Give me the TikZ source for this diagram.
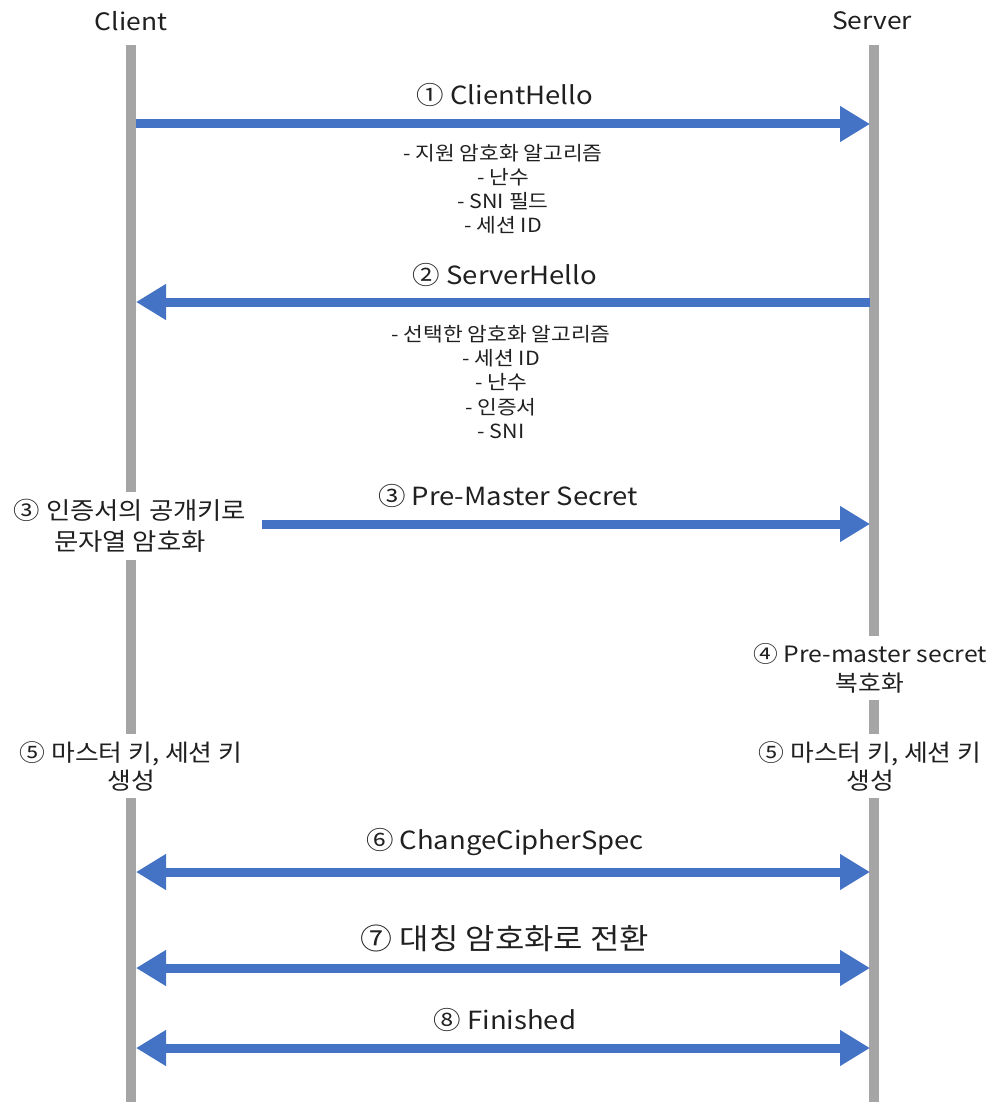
\documentclass[tikz,border=0pt]{standalone}
\usepackage{fontspec}
\setmainfont[FakeStretch=1.1]{Noto Sans CJK KR}
\usetikzlibrary{arrows.meta}
\definecolor{lifegray}{HTML}{A5A5A5}
\definecolor{msgblue}{HTML}{4472C4}
\definecolor{txt}{HTML}{202020}
\tikzset{
  lifeline/.style={draw=lifegray, line width=10pt},
  msg/.style={draw=msgblue, line width=9pt, -{Triangle[length=30pt,width=34pt]}},
  msgboth/.style={draw=msgblue, line width=9pt, {Triangle[length=30pt,width=34pt]}-{Triangle[length=30pt,width=34pt]}},
  actor/.style={font=\fontsize{24}{28}\selectfont, text=txt},
  title/.style={font=\fontsize{25}{29}\selectfont, text=txt},
  bigtitle/.style={font=\fontsize{29}{33}\selectfont, text=txt},
  detail/.style={font=\fontsize{19.5}{24.2}\selectfont, align=center, text=txt},
  sidenote/.style={font=\fontsize{24}{31}\selectfont, align=center, fill=white, inner xsep=1pt, inner ysep=7pt, text=txt},
}
\begin{document}
\begin{tikzpicture}[x=1pt,y=-1pt]
\useasboundingbox (0,0) rectangle (994,1102);
% actors
\node[actor] (client) at (131,21) {Client};
\node[actor] (server) at (872,21) {Server};
\coordinate (cTop) at (131,45);
\coordinate (cBot) at (131,1102);
\coordinate (sTop) at (874,45);
\coordinate (sBot) at (874,1102);
\draw[lifeline] (cTop) -- (cBot);
\draw[lifeline] (sTop) -- (sBot);
% message endpoints
\coordinate (c1) at (136,124); \coordinate (s1) at (870,124);
\coordinate (c2) at (136,302); \coordinate (s2) at (870,302);
\coordinate (c3) at (262,524); \coordinate (s3) at (870,524);
\coordinate (c6) at (136,872); \coordinate (s6) at (870,872);
\coordinate (c7) at (136,968); \coordinate (s7) at (870,968);
\coordinate (c8) at (136,1048); \coordinate (s8) at (870,1048);
% 1
\draw[msg] (c1) -- (s1);
\node[title] (t1) at (505,95) {① ClientHello};
\node[detail] (d1) at (503,189) {- 지원 암호화 알고리즘\\- 난수\\- SNI 필드\\- 세션 ID};
% 2
\draw[msg] (s2) -- (c2);
\node[title] (t2) at (505,275) {② ServerHello};
\node[detail] (d2) at (501,382) {- 선택한 암호화 알고리즘\\- 세션 ID\\- 난수\\- 인증서\\- SNI};
% 3
\draw[msg] (c3) -- (s3);
\node[title] (t3) at (508,496) {③ Pre-Master Secret};
\node[sidenote] (n3) at (130,526) {③ 인증서의 공개키로\\문자열 암호화};
% 4
\node[sidenote, font=\fontsize{22.5}{29}\selectfont] (n4) at (870,668) {④ Pre-master secret\\복호화};
% 5
\node[sidenote, font=\fontsize{23.5}{28}\selectfont] (n5c) at (131,766) {⑤ 마스터 키, 세션 키\\생성};
\node[sidenote, font=\fontsize{23.5}{28}\selectfont] (n5s) at (870,766) {⑤ 마스터 키, 세션 키\\생성};
% 6
\draw[msgboth] (c6) -- (s6);
\node[title] (t6) at (505,842) {⑥ ChangeCipherSpec};
% 7
\draw[msgboth] (c7) -- (s7);
\node[bigtitle] (t7) at (505,938) {⑦ 대칭 암호화로 전환};
% 8
\draw[msgboth] (c8) -- (s8);
\node[title] (t8) at (505,1020) {⑧ Finished};
\end{tikzpicture}
\end{document}
